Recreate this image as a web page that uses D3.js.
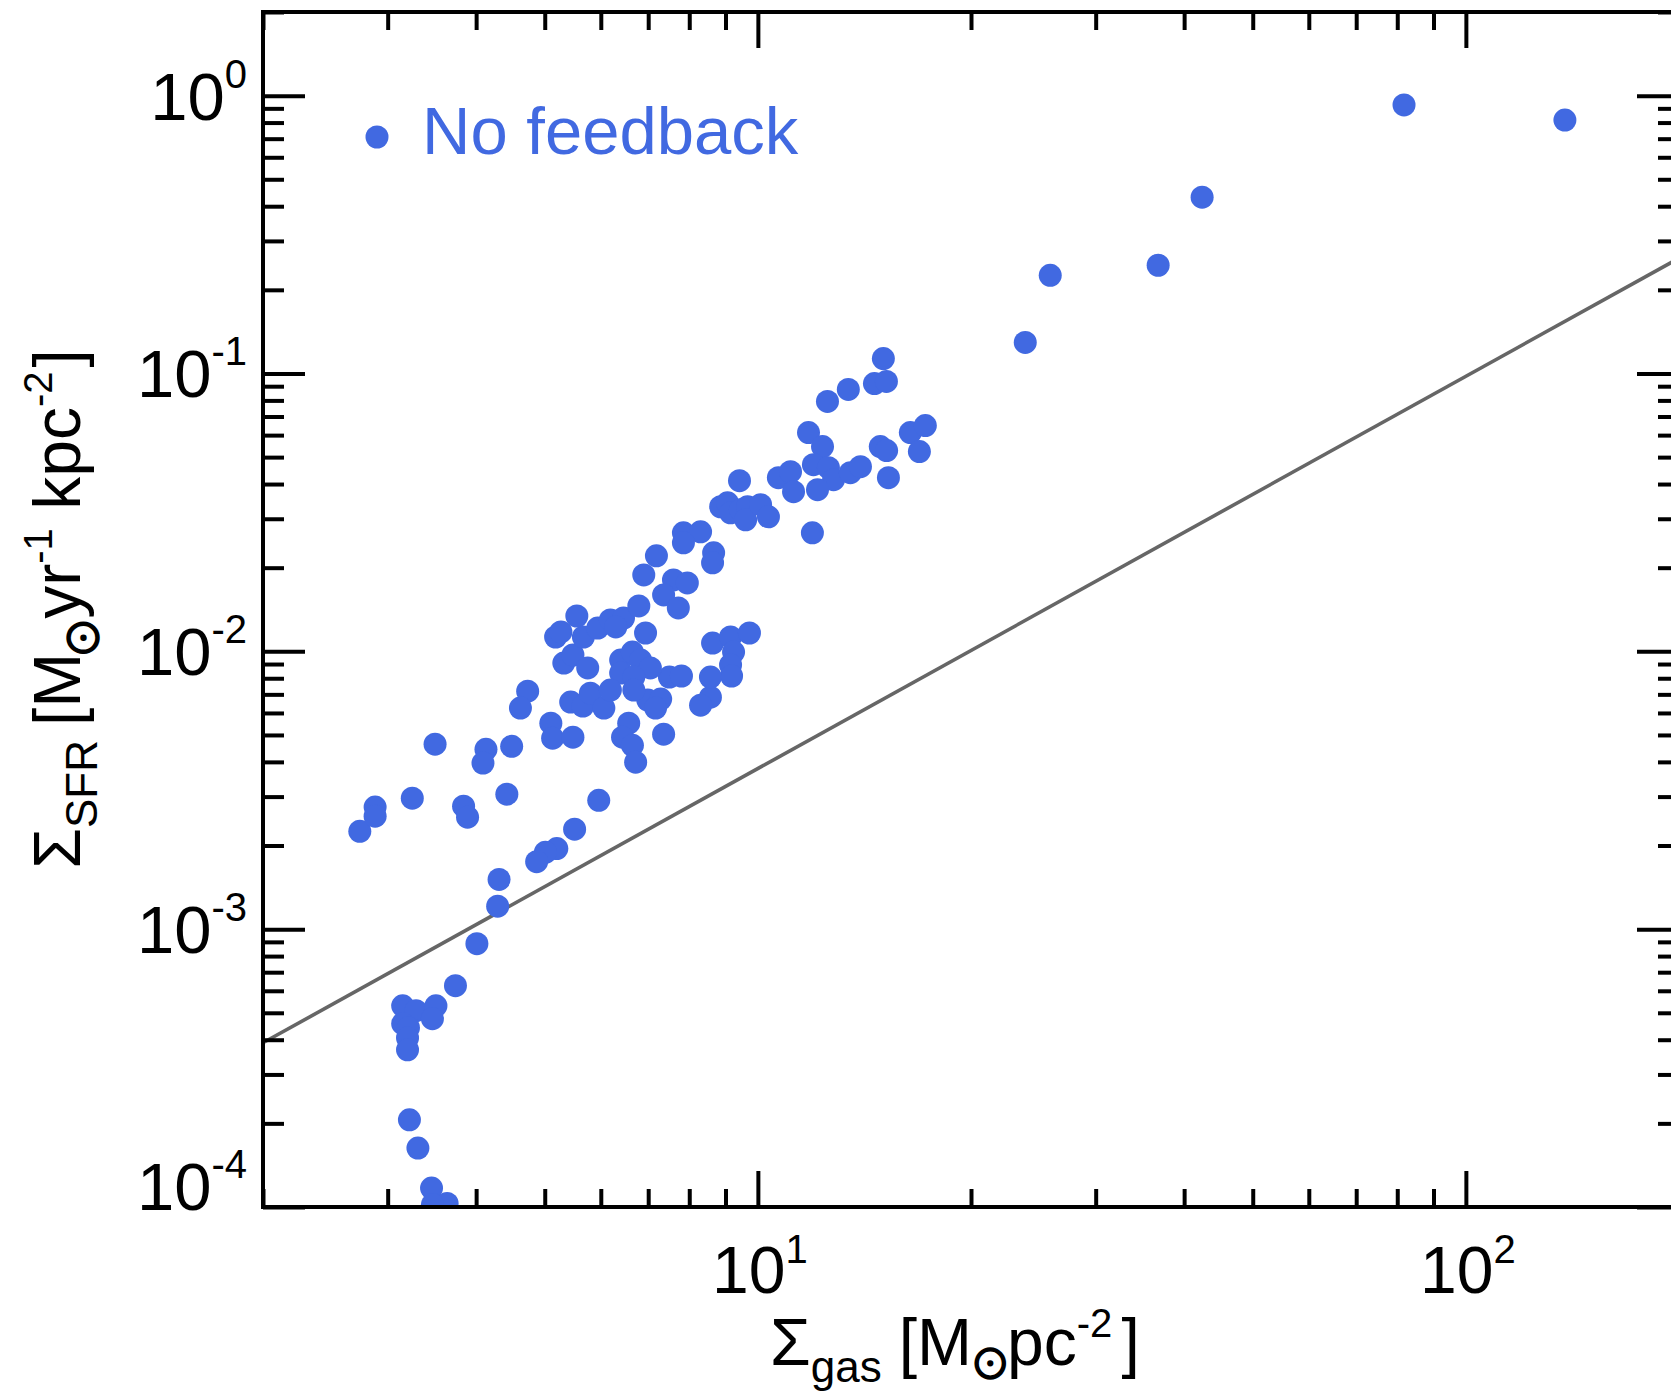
<!DOCTYPE html>
<html><head><meta charset="utf-8">
<script src="https://cdn.jsdelivr.net/npm/d3@7"></script>
<style>body{margin:0;background:#fff;} svg{display:block;}</style>
</head><body>
<svg id="chart" width="1671" height="1392"></svg>
<script>
// Σ_gas [M⊙ pc^-2]
const gasDensity = [
  2.74, 2.88, 2.88, 3.25, 3.50, 3.84, 3.89, 4.13, 4.09, 4.42, 4.49, 4.73, 4.62, 5.96, 5.51, 5.20, 5.01, 4.87,
  4.31, 4.29, 4.01, 3.74, 3.15, 3.29, 3.51, 3.47, 3.15, 3.21, 3.20, 3.20, 3.22, 3.31, 3.46, 3.64, 3.47,
  5.44, 5.66, 5.80, 6.06, 5.10, 5.13, 5.48, 6.57, 6.44, 6.65, 6.72, 7.36, 6.99, 7.29, 7.17, 8.57, 8.30,
  8.63, 9.15, 9.73, 9.24, 9.15, 9.18, 8.57, 7.50, 7.80, 6.40, 6.65, 6.83, 7.05, 6.40, 6.68, 6.68, 6.19,
  5.32, 5.48, 5.75, 5.18, 5.27, 5.67, 5.94, 6.19, 6.46, 6.30, 6.94, 5.55, 6.79, 6.90, 7.19, 7.60, 7.95,
  7.36, 7.72, 8.66, 8.63, 7.85, 8.30, 7.85, 8.86, 9.06, 9.15, 9.45, 9.67, 9.61, 10.09, 10.35, 9.42,
  10.69, 11.12, 11.23, 11.94, 11.79, 12.34, 11.98, 12.58, 12.79, 13.51, 13.96, 12.14, 12.54, 13.42, 14.61,
  15.19, 15.04, 14.89, 15.20, 15.29, 16.42, 17.24, 16.91, 23.86, 25.88, 36.76, 42.41, 81.78, 138.0
];
// Σ_SFR [M⊙ yr^-1 kpc^-2]
const sfrDensity = [
  2.25e-3, 2.75e-3, 2.55e-3, 2.96e-3, 4.63e-3, 2.77e-3, 2.53e-3, 4.44e-3, 3.96e-3, 3.06e-3, 4.55e-3, 7.19e-3,
  6.25e-3, 2.91e-3, 2.29e-3, 1.95e-3, 1.89e-3, 1.75e-3,
  1.51e-3, 1.21e-3, 8.87e-4, 6.26e-4, 5.30e-4, 5.09e-4, 5.30e-4, 4.76e-4, 4.57e-4, 4.42e-4, 4.06e-4, 3.68e-4,
  2.06e-4, 1.63e-4, 1.17e-4, 1.03e-4, 1.02e-4,
  6.57e-3, 6.35e-3, 7.07e-3, 6.25e-3, 5.51e-3, 4.87e-3, 4.91e-3, 5.51e-3, 4.91e-3, 4.59e-3, 3.99e-3, 5.03e-3,
  6.68e-3, 6.73e-3, 6.25e-3, 6.84e-3, 6.40e-3,
  1.071e-2, 1.126e-2, 1.164e-2, 9.94e-3, 8.93e-3, 8.15e-3, 8.08e-3, 8.08e-3, 8.15e-3, 9.30e-3, 9.94e-3, 9.30e-3,
  8.71e-3, 8.35e-3, 8.08e-3, 7.25e-3, 7.25e-3,
  9.07e-3, 9.70e-3, 8.71e-3, 1.126e-2, 1.174e-2, 1.126e-2, 1.213e-2, 1.297e-2, 1.318e-2, 1.224e-2, 1.164e-2,
  1.34e-2, 1.457e-2, 1.884e-2, 2.207e-2, 1.807e-2, 1.763e-2,
  1.596e-2, 1.433e-2, 2.262e-2, 2.082e-2, 2.671e-2, 2.693e-2, 2.458e-2, 3.314e-2, 3.425e-2, 3.152e-2, 3.232e-2,
  3.314e-2, 2.975e-2, 3.37e-2, 3.05e-2, 4.112e-2,
  4.215e-2, 4.43e-2, 3.754e-2, 2.671e-2, 6.126e-2, 5.455e-2, 4.695e-2, 4.58e-2, 4.147e-2, 4.395e-2, 4.62e-2,
  3.816e-2, 7.93e-2, 8.76e-2, 9.20e-2,
  9.36e-2, 0.1132, 5.455e-2, 5.277e-2, 4.215e-2, 6.126e-2, 6.493e-2, 5.233e-2, 0.1293, 0.2256, 0.2452, 0.4312,
  0.926, 0.817
];
// Kennicutt-Schmidt reference line end points
const ksGas = [2, 200];
const ksSfr = [3.9e-4, 0.26];

const xTickValues = [10, 100];
const xTickExponents = ["1", "2"];
const yTickValues = [1, 0.1, 0.01, 0.001, 0.0001];
const yTickExponents = ["0", "-1", "-2", "-3", "-4"];
const legendLabel = "No feedback";

const blue = "#4169E1";
const FONT = "'Liberation Sans', Arial, Helvetica, sans-serif";
const SUNFONT = "'Noto Sans CJK SC', 'DejaVu Sans', sans-serif";

const svg = d3.select("#chart");
const L = 263, R = 1679, T = 12, B = 1207;
const x = d3.scaleLog().domain([2, 200]).range([L, R]);
const y = d3.scaleLog().domain([1e-4, 2]).range([B, T]);

svg.append("defs").append("clipPath").attr("id", "plotclip")
  .append("rect").attr("x", L).attr("y", T).attr("width", R - L).attr("height", B - T);

// Reference line
const line = d3.line().x(d => x(d[0])).y(d => y(d[1]));
svg.append("path")
  .attr("clip-path", "url(#plotclip)")
  .attr("d", line(ksGas.map((g, i) => [g, ksSfr[i]])))
  .attr("fill", "none").attr("stroke", "#666666").attr("stroke-width", 3.6);

// Points
svg.append("g").attr("clip-path", "url(#plotclip)")
  .selectAll("circle").data(gasDensity.map((g, i) => [g, sfrDensity[i]]))
  .join("circle")
  .attr("cx", d => x(d[0])).attr("cy", d => y(d[1])).attr("r", 11.5)
  .attr("fill", blue);

// Axes (ticks)
const isMajor = v => Math.abs(Math.log10(v) - Math.round(Math.log10(v))) < 1e-9;
const xAll = x.ticks();
const yAll = y.ticks();
const xMinor = xAll.filter(v => !isMajor(v)), xMajor = xAll.filter(isMajor);
const yMinor = yAll.filter(v => !isMajor(v)), yMajor = yAll.filter(isMajor);

function styleAxis(g) {
  g.select(".domain").remove();
  g.selectAll("line").attr("stroke", "#000").attr("stroke-width", 4);
  g.selectAll("text").remove();
}
svg.append("g").attr("transform", `translate(0,${B})`).call(d3.axisBottom(x).tickValues(xMinor).tickSize(-18).tickFormat("")).call(styleAxis);
svg.append("g").attr("transform", `translate(0,${B})`).call(d3.axisBottom(x).tickValues(xMajor).tickSize(-36).tickFormat("")).call(styleAxis);
svg.append("g").attr("transform", `translate(0,${T})`).call(d3.axisTop(x).tickValues(xMinor).tickSize(-18).tickFormat("")).call(styleAxis);
svg.append("g").attr("transform", `translate(0,${T})`).call(d3.axisTop(x).tickValues(xMajor).tickSize(-36).tickFormat("")).call(styleAxis);
svg.append("g").attr("transform", `translate(${L},0)`).call(d3.axisLeft(y).tickValues(yMinor).tickSize(-21).tickFormat("")).call(styleAxis);
svg.append("g").attr("transform", `translate(${L},0)`).call(d3.axisLeft(y).tickValues(yMajor).tickSize(-42).tickFormat("")).call(styleAxis);
svg.append("g").attr("transform", `translate(${R},0)`).call(d3.axisRight(y).tickValues(yMinor).tickSize(-21).tickFormat("")).call(styleAxis);
svg.append("g").attr("transform", `translate(${R},0)`).call(d3.axisRight(y).tickValues(yMajor).tickSize(-42).tickFormat("")).call(styleAxis);

// Frame
svg.append("rect").attr("x", L).attr("y", T).attr("width", R - L).attr("height", B - T)
  .attr("fill", "none").attr("stroke", "#000").attr("stroke-width", 4);

// Tick labels
const xl = svg.append("g").attr("font-family", FONT).attr("fill", "#000");
xTickValues.forEach((v, i) => {
  const t = xl.append("text").attr("x", x(v) + 2).attr("y", 1293).attr("text-anchor", "middle").attr("font-size", 66);
  t.append("tspan").text("10");
  t.append("tspan").attr("font-size", 40).attr("dy", -30).text(xTickExponents[i]);
});
const yl = svg.append("g").attr("font-family", FONT).attr("fill", "#000");
yTickValues.forEach((v, i) => {
  const t = yl.append("text").attr("x", 247).attr("y", Math.min(y(v) + 24, B + 3))
    .attr("text-anchor", "end").attr("font-size", 67);
  t.append("tspan").text("10");
  t.append("tspan").attr("font-size", 40).attr("dy", -32).text(yTickExponents[i]);
});

// glyph ink metrics via canvas
const ctx = document.createElement("canvas").getContext("2d");
function ink(txt, size, fam) {
  ctx.font = `${size}px ${fam}`;
  const m = ctx.measureText(txt);
  return { lb: -m.actualBoundingBoxLeft, rb: m.width - m.actualBoundingBoxRight,
           w: m.actualBoundingBoxLeft + m.actualBoundingBoxRight,
           mid: (m.actualBoundingBoxAscent - m.actualBoundingBoxDescent) / 2,
           fdesc: m.fontBoundingBoxDescent || 0.3 * size };
}

// Axis titles
function title(sel, sub, unitParts, opt) {
  const fs = 66;
  const probe = ink("⊙", 100, SUNFONT);
  const sunSize = probe.w > 0 ? 100 * opt.sunDiam / probe.w : 40;
  const sun = ink("⊙", sunSize, SUNFONT);
  const mInk = ink("M", fs, FONT);
  let sunDy = opt.sunCenter + sun.mid;            // ⊙ ink centre relative to main baseline
  if (opt.maxBottom !== undefined) sunDy = Math.min(sunDy, opt.maxBottom - sun.fdesc);
  const firstInk = ink(unitParts[0].t.trim()[0], fs, FONT);
  sel.append("tspan").text("Σ");
  sel.append("tspan").attr("font-size", 44).attr("dy", 17).text(sub);
  sel.append("tspan").attr("dy", -17).attr("dx", opt.gapBracket).text("[M");
  sel.append("tspan").attr("font-size", sunSize.toFixed(1)).attr("font-family", SUNFONT)
    .attr("stroke", "#000").attr("stroke-width", 1.6)
    .attr("dy", sunDy).attr("dx", opt.gapSun - mInk.rb - sun.lb).text("⊙");
  let base = sunDy;
  unitParts.forEach((p, i) => {
    const s = sel.append("tspan");
    if (i === 0) s.attr("dx", opt.gapAfterSun - sun.rb - firstInk.lb);
    if (p.dx) s.attr("dx", p.dx);
    if (p.sup) {
      s.attr("font-size", 40).attr("dy", -base - 28).text(p.t);
      base = -28;
    } else {
      s.attr("dy", -base).text(p.t);
      base = 0;
    }
  });
}
const xt = svg.append("text").attr("x", 770).attr("y", 1365)
  .attr("font-family", FONT).attr("font-size", 66).attr("fill", "#000");
title(xt, "gas", [{t: "pc"}, {t: "-2", sup: true}, {t: "]", dx: 9}],
  {gapBracket: 17, gapSun: 8, gapAfterSun: 5, sunCenter: 4, sunDiam: 30, maxBottom: 1391 - 1365});

const yt = svg.append("text").attr("transform", "translate(80,609) rotate(-90)").attr("text-anchor", "middle")
  .attr("font-family", FONT).attr("font-size", 66).attr("fill", "#000");
title(yt, "SFR", [{t: "yr"}, {t: "-1", sup: true}, {t: " kpc"}, {t: "-2", sup: true}, {t: "]", dx: 4}],
  {gapBracket: 14, gapSun: 4, gapAfterSun: 3, sunCenter: 3, sunDiam: 31});

// Legend
svg.append("circle").attr("cx", 377).attr("cy", 137).attr("r", 11.5).attr("fill", blue);
svg.append("text").attr("x", 422).attr("y", 154).attr("font-family", FONT).attr("font-size", 67)
  .attr("fill", blue).text(legendLabel);
</script>
</body></html>
